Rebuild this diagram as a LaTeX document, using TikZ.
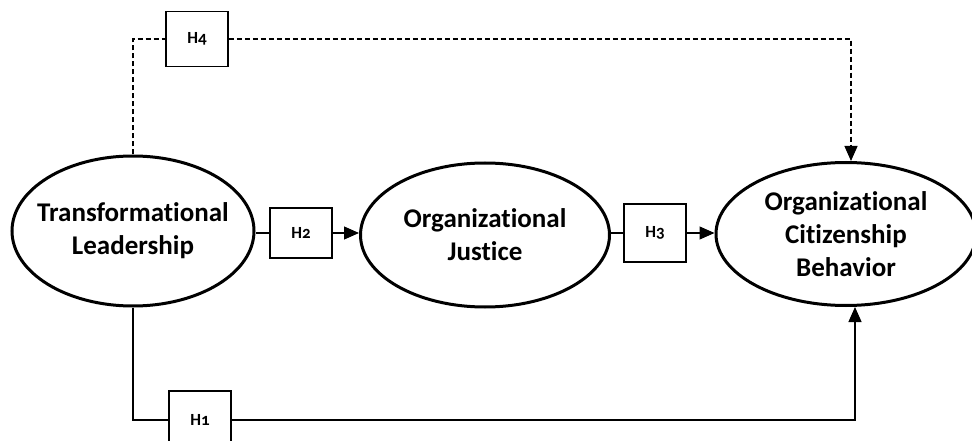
\documentclass[tikz,border=0pt]{standalone}
\usepackage{fontspec}
\setmainfont{Carlito}[RawFeature={-liga;-clig;-calt}]
\usetikzlibrary{shapes.geometric,arrows.meta}

\begin{document}
\begin{tikzpicture}[x=1pt,y=-1pt,
   >={Triangle[length=15pt,width=13pt]},
   latent/.style={ellipse,draw,line width=3pt,inner sep=0pt},
   lattext/.style={align=center,font=\fontsize{27}{33}\selectfont\bfseries},
   hyp/.style={draw,line width=1.5pt,minimum width=62pt,inner sep=0pt,
      font=\fontsize{17}{20}\selectfont\bfseries\addfontfeature{Numbers=OldStyle}},
   link/.style={line width=1.2pt},
   dashlink/.style={line width=1.2pt,dash pattern=on 5pt off 3pt}]
   \clip (0,0) rectangle (972,441);

   \node[latent,minimum width=242pt,minimum height=150pt,
      label={[lattext]center:Transformational\\Leadership}] (tl) at (133,231) {};
   \node[latent,minimum width=249pt,minimum height=144pt,
      label={[lattext]center:Organizational\\Justice}] (oj) at (485,235) {};
   \node[latent,minimum width=260pt,minimum height=143pt,
      label={[lattext]center:Organizational\\Citizenship\\Behavior}] (ocb) at (846,234) {};

   \node[hyp,minimum height=55pt] (h4) at (197,39) {H4};
   \node[hyp,minimum height=50pt] (h2) at (301,233) {H2};
   \node[hyp,minimum height=58pt] (h3) at (655,233) {H3};
   \node[hyp,minimum height=58pt] (h1) at (200,420) {H1};

   % direct paths
   \draw[link] (h2.west -| tl.east) -- (h2.west);
   \draw[link,->] (h2.east) -- (h2.east -| oj.west);
   \draw[link] (h3.west -| oj.east) -- (h3.west);
   \draw[link,->] (h3.east) -- (h3.east -| ocb.west);
   \draw[link] (tl.south) |- (h1.west);
   \draw[link,->] (h1.east) -| ([xshift=9pt]ocb.south);

   % mediated path
   \draw[dashlink] (tl.north) |- (h4.west);
   \draw[dashlink,->] (h4.east) -| ([xshift=5pt]ocb.north);
\end{tikzpicture}
\end{document}
